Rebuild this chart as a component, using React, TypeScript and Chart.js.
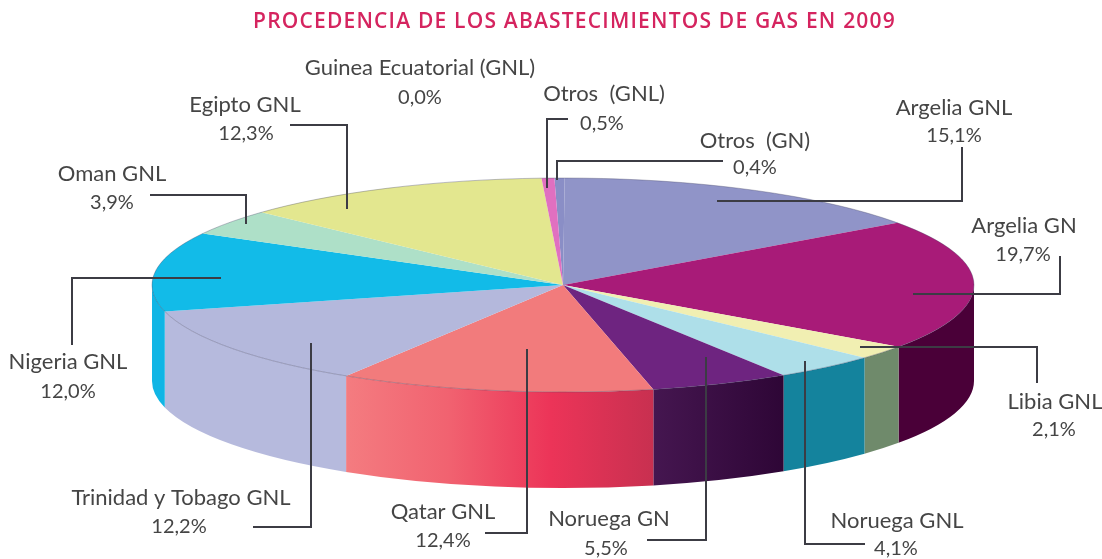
import React, { useEffect, useRef } from "react";
import { Chart, registerables } from "chart.js";

Chart.register(...registerables);

const titleText = "PROCEDENCIA DE LOS ABASTECIMIENTOS DE GAS EN 2009";
const categories = ["Otros  (GN)", "Argelia GNL", "Argelia GN", "Libia GNL", "Noruega GNL", "Noruega GN", "Qatar GNL", "Trinidad y Tobago GNL", "Nigeria GNL", "Oman GNL", "Egipto GNL", "Guinea Ecuatorial (GNL)", "Otros  (GNL)"];
const shares = [0.4, 15.1, 19.7, 2.1, 4.1, 5.5, 12.4, 12.2, 12.0, 3.9, 12.3, 0.0, 0.5];
const shareLabels = ["0,4%", "15,1%", "19,7%", "2,1%", "4,1%", "5,5%", "12,4%", "12,2%", "12,0%", "3,9%", "12,3%", "0,0%", "0,5%"];
const topColors = ["#8a8ec6", "#9094c8", "#a81b78", "#f1efb2", "#aedfe9", "#6e2480", "#f27b7c", "#b4b8dc", "#12bbe8", "#aee0c8", "#e3e78f", "#e3e78f", "#e070c0"];
const sideStops = [["#6a6ea0"], ["#6a6ea0"], ["#4a0038"], ["#6f8a6b"], ["#14839d"], ["#451650", "#2e0636"], ["#f47c80", "#f16270", "#ec3458", "#c83050"], ["#b6badd"], ["#10b5e5"], ["#80b0a0"], ["#b0b470"], ["#b0b470"], ["#a05090"]];

// Text placement, by category: [name centre x, name y, share centre x, share y]
const labelPlaces = [
  [755, 141, 755, 168], [954, 108, 954, 136], [1024, 226, 1023, 255], [1055, 402, 1054, 430],
  [897, 521, 896, 549], [609, 519, 606, 549], [443, 512, 443, 541], [181, 498, 179, 527],
  [68, 362, 68, 392], [112, 174, 112, 203], [245, 105, 246, 134], [420, 68, 420, 98], [604, 94, 602, 124],
];
// Leader lines, by category
const leaderPaths = [
  [[723, 161], [557, 161], [557, 180]], [[717, 201], [962, 201], [962, 147]], [[913, 294], [1060, 294], [1060, 256]],
  [[860, 347], [1037, 347], [1037, 383]], [[805, 361], [805, 544], [865, 544]], [[706, 357], [706, 540], [647, 540]],
  [[527, 349], [527, 533], [485, 533]], [[311, 343], [311, 527], [253, 527]], [[221, 278], [72, 278], [72, 345]],
  [[150, 195], [246, 195], [246, 224]], [[290, 125], [347, 125], [347, 209]], [], [[568, 119], [547, 119], [547, 188]],
];

const RX = 411, RY = 107, DEPTH = 96;
const NAME_FONT = '22px Lato, "Open Sans", sans-serif';
const SHARE_FONT = '20px Lato, "Open Sans", sans-serif';

const pie3d = {
  id: "pie3d",
  beforeDatasetsDraw(chart: any) {
    const { ctx } = chart;
    const arcs = chart.getDatasetMeta(0).data;
    const cx = arcs[0].x, cy = arcs[0].y, r = arcs[0].outerRadius;
    arcs.forEach((arc: any, i: number) => {
      const sweep = arc.endAngle - arc.startAngle;
      const tau = Math.PI * 2;
      const s0 = ((arc.startAngle % tau) + tau) % tau;
      [0, tau].forEach((base) => {
        const s = Math.max(s0, base), e = Math.min(s0 + sweep, base + Math.PI);
        if (e <= s) return;
        const stops = sideStops[i];
        const x0 = cx + RX * Math.cos(s), x1 = cx + RX * Math.cos(e);
        const g = ctx.createLinearGradient(x1, 0, x0, 0);
        stops.forEach((c, k) => g.addColorStop(stops.length > 1 ? k / (stops.length - 1) : 0, c));
        ctx.beginPath();
        ctx.ellipse(cx, cy, RX, RY, 0, s, e, false);
        ctx.ellipse(cx, cy + DEPTH, RX, RY, 0, e, s, true);
        ctx.closePath();
        ctx.fillStyle = g;
        ctx.fill();
      });
    });
    ctx.save();
    ctx.translate(cx, cy);
    ctx.scale(RX / r, RY / r);
    ctx.translate(-cx, -cy);
  },
  afterDatasetsDraw(chart: any) {
    const { ctx } = chart;
    ctx.restore();
    const arc0 = chart.getDatasetMeta(0).data[0];
    ctx.save();
    ctx.beginPath();
    ctx.ellipse(arc0.x, arc0.y, RX, RY, 0, 0, Math.PI * 2);
    ctx.strokeStyle = "rgba(70,70,100,0.35)";
    ctx.lineWidth = 1;
    ctx.stroke();

    ctx.strokeStyle = "#3c3c44";
    ctx.lineWidth = 2;
    leaderPaths.forEach((path) => {
      if (!path.length) return;
      ctx.beginPath();
      path.forEach(([x, y], k) => (k ? ctx.lineTo(x, y) : ctx.moveTo(x, y)));
      ctx.stroke();
    });

    ctx.textAlign = "center";
    ctx.textBaseline = "middle";
    ctx.fillStyle = "#454545";
    categories.forEach((name, i) => {
      const [nx, ny, sx, sy] = labelPlaces[i];
      ctx.font = NAME_FONT;
      ctx.fillText(name, nx, ny);
      ctx.font = SHARE_FONT;
      ctx.fillText(shareLabels[i], sx, sy);
    });
    ctx.fillStyle = "#d5245f";
    ctx.font = '600 21px "Open Sans", Lato, sans-serif';
    ctx.letterSpacing = "1.2px";
    ctx.fillText(titleText, 574.5, 22);
    ctx.letterSpacing = "0px";
    ctx.restore();
  },
};

export default function App() {
  const ref = useRef<HTMLCanvasElement>(null);
  useEffect(() => {
    document.body.style.margin = "0";
    document.body.style.background = "#fff";
    const chart = new Chart(ref.current!, {
      type: "pie",
      data: {
        labels: categories,
        datasets: [{ data: shares, backgroundColor: topColors, borderWidth: 0, hoverOffset: 0, clip: false } as any],
      },
      options: {
        responsive: false,
        animation: false,
        rotation: -1.2,
        layout: { padding: { left: 24, top: 11 } },
        plugins: { legend: { display: false }, tooltip: { enabled: false }, title: { display: false } },
      },
      plugins: [pie3d],
    } as any);
    return () => chart.destroy();
  }, []);
  return (
    <canvas
      ref={ref}
      width={1102}
      height={559}
      style={{ position: "fixed", left: 0, top: 0, width: 1102, height: 559, display: "block", filter: "blur(0.6px)" }}
    />
  );
}
